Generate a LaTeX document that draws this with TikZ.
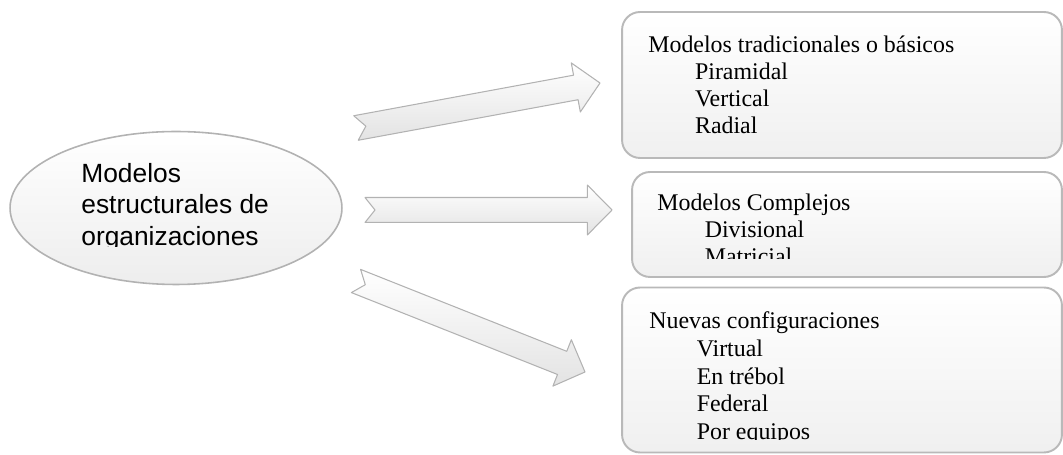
\documentclass[tikz,border=0pt]{standalone}
\usepackage{fontspec}
\setmainfont{Liberation Serif}
\setsansfont{Liberation Sans}
\usetikzlibrary{calc,shapes.geometric}

% block arrow with a notched tail, from #1 to #2
\newcommand{\notcharrow}[2]{%
  \coordinate (neck) at ($(#2)!14pt!(#1)$);
  \draw[fatarrow] ($(#1)!7.1pt!90:(#2)$) -- ($(neck)!7.1pt!90:(#2)$)
    -- ($(neck)!14.2pt!90:(#2)$) -- (#2) -- ($(neck)!14.2pt!-90:(#2)$)
    -- ($(neck)!7.1pt!-90:(#2)$) -- ($(#1)!7.1pt!-90:(#2)$)
    -- ($(#1)!5.7pt!(#2)$) -- cycle;}

\begin{document}
\begin{tikzpicture}[x=0.02cm, y=-0.02cm,
    modelbox/.style={draw=gray!55, line width=1.1pt, rounded corners=0.36cm,
      top color=white, bottom color=gray!12},
    orgshape/.style={ellipse, draw=gray!60, line width=0.9pt,
      top color=white, bottom color=gray!14},
    fatarrow/.style={draw=gray!60, line width=0.6pt, line join=round,
      top color=white, bottom color=gray!22},
    boxtext/.style={anchor=north west, inner sep=0pt, align=left,
      font=\fontsize{13.6}{15.3}\selectfont},
    orgtext/.style={anchor=north west, inner sep=0pt, align=left,
      font=\sffamily\fontsize{15}{17.9}\selectfont}]
  \useasboundingbox (0,0) rectangle (1063,455);

  % left: the ellipse
  \node[orgshape, minimum width=6.64cm, minimum height=3.06cm] (org) at (176,208) {};
  \begin{scope}
    \clip (0,0) rectangle (1063,247);
    \node[orgtext] (orgname) at (81,163) {Modelos\\estructurales de\\organizaciones};
  \end{scope}

  % right: the three boxes
  \node[modelbox, minimum width=8.8cm, minimum height=2.92cm] (trad) at (842,85) {};
  \node[modelbox, minimum width=8.6cm, minimum height=2.1cm] (comp) at (847,224.5) {};
  \node[modelbox, minimum width=8.8cm, minimum height=3.3cm] (nuev) at (842,370) {};

  \node[boxtext] (tradtext) at (648,36) {Modelos tradicionales o básicos\\
    \hspace*{26.6pt}Piramidal\\\hspace*{26.6pt}Vertical\\\hspace*{26.6pt}Radial};
  \begin{scope}
    \clip (600,160) rectangle (1063,259);
    \node[boxtext] (comptext) at (657,194) {Modelos Complejos\\
      \hspace*{27pt}Divisional\\\hspace*{27pt}Matricial};
  \end{scope}
  \begin{scope}
    \clip (600,280) rectangle (1063,440);
    \node[boxtext, font=\fontsize{13.6}{15.9}\selectfont] (nuevtext) at (649,311)
      {Nuevas configuraciones\\
      \hspace*{27pt}Virtual\\\hspace*{27pt}En trébol\\\hspace*{27pt}Federal\\
      \hspace*{27pt}Por equipos};
  \end{scope}

  % arrows
  \coordinate (t1) at (356,128); \coordinate (h1) at (600,83);
  \coordinate (t2) at (365,210); \coordinate (h2) at (612,210);
  \coordinate (t3) at (356,281); \coordinate (h3) at (585,372);
  \notcharrow{t1}{h1}
  \notcharrow{t2}{h2}
  \notcharrow{t3}{h3}
\end{tikzpicture}
\end{document}
